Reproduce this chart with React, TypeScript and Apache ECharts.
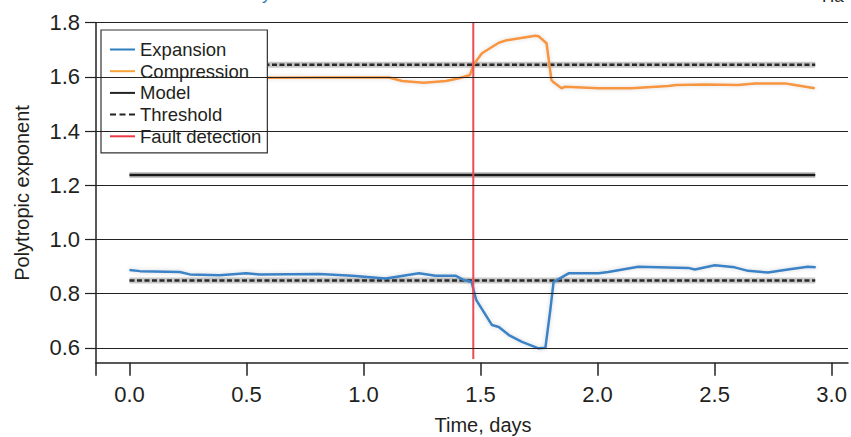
import { useEffect, useRef } from 'react';
import * as echarts from 'echarts';

const xTickValues = [0, 0.5, 1.0, 1.5, 2.0, 2.5, 3.0];
const yTickValues = [0.6, 0.8, 1.0, 1.2, 1.4, 1.6, 1.8];

const expansionDays = [0.0, 0.045, 0.215, 0.258, 0.385, 0.499, 0.556, 0.811, 0.952, 1.095, 1.237, 1.308, 1.393, 1.429, 1.462, 1.474, 1.482, 1.549, 1.578, 1.621, 1.677, 1.748, 1.777, 1.798, 1.812, 1.826, 1.876, 2.004, 2.046, 2.174, 2.387, 2.416, 2.501, 2.586, 2.643, 2.728, 2.813, 2.898, 2.932];
const expansionValues = [0.887, 0.883, 0.880, 0.871, 0.868, 0.875, 0.871, 0.872, 0.866, 0.856, 0.875, 0.866, 0.866, 0.850, 0.843, 0.800, 0.776, 0.684, 0.677, 0.647, 0.622, 0.598, 0.600, 0.739, 0.843, 0.850, 0.875, 0.875, 0.880, 0.899, 0.895, 0.889, 0.905, 0.897, 0.884, 0.878, 0.889, 0.899, 0.897];

const compressionDays = [0.0, 0.3, 0.607, 0.811, 1.109, 1.165, 1.258, 1.352, 1.408, 1.455, 1.470, 1.506, 1.578, 1.606, 1.734, 1.748, 1.782, 1.803, 1.812, 1.846, 1.862, 2.004, 2.144, 2.302, 2.336, 2.460, 2.600, 2.672, 2.800, 2.843, 2.928];
const compressionValues = [1.597, 1.598, 1.597, 1.598, 1.598, 1.585, 1.578, 1.585, 1.595, 1.607, 1.645, 1.687, 1.726, 1.734, 1.752, 1.750, 1.724, 1.588, 1.580, 1.558, 1.564, 1.558, 1.558, 1.566, 1.570, 1.572, 1.570, 1.576, 1.576, 1.570, 1.558];

const modelDays = [0.0, 2.93];
const modelValues = [1.238, 1.238];
const upperThresholdValues = [1.645, 1.645];
const lowerThresholdValues = [0.848, 0.848];

const faultDay = 1.469;
const faultRange = [0.559, 1.8];

const xMin = -0.143;
const xMax = 3.07;
const yMin = 0.545;
const yMax = 1.8;

const FONT = 'Liberation Sans';
const TEXT = '#231f20';

const zip = (xs: number[], ys: number[]) => xs.map((x, i) => [x, ys[i]]);

export default function App() {
  const ref = useRef<HTMLDivElement>(null);
  useEffect(() => {
    const chart = echarts.init(ref.current!, undefined, { renderer: 'svg' });
    const halo = 'rgba(110,110,110,0.38)';
    chart.setOption({
      animation: false,
      backgroundColor: '#ffffff',
      textStyle: { fontFamily: FONT, color: TEXT },
      grid: { left: 96, right: 3, top: 22.7, bottom: 74.3, containLabel: false },
      xAxis: {
        type: 'value',
        min: xMin,
        max: xMax,
        axisLine: { show: true, onZero: false, lineStyle: { color: '#222', width: 1.5 } },
        axisTick: { show: true, length: 13, customValues: [xMin, ...xTickValues], lineStyle: { color: '#222', width: 1.5 } },
        axisLabel: {
          customValues: xTickValues,
          formatter: (v: number) => v.toFixed(1),
          fontSize: 22,
          fontFamily: FONT,
          color: TEXT,
          margin: 21,
        },
        splitLine: { show: false },
      },
      yAxis: {
        type: 'value',
        min: yMin,
        max: yMax,
        axisLine: { show: true, onZero: false, lineStyle: { color: '#222', width: 1.5 } },
        axisTick: { show: true, length: 11, customValues: yTickValues, lineStyle: { color: '#222', width: 1.2 } },
        axisLabel: {
          customValues: yTickValues,
          formatter: (v: number) => v.toFixed(1),
          fontSize: 22,
          fontFamily: FONT,
          color: TEXT,
          margin: 16,
        },
        splitLine: { show: false },
      },
      legend: {
        orient: 'vertical',
        left: 101,
        top: 30,
        backgroundColor: '#ffffff',
        borderColor: '#333',
        borderWidth: 1.2,
        padding: [10, 6, 7, 9],
        itemGap: 2.7,
        itemWidth: 25,
        itemHeight: 14,
        textStyle: { fontSize: 18.5, fontFamily: FONT, color: TEXT, lineHeight: 18 },
        data: [
          { name: 'Expansion', icon: 'path://M0,6H25V8H0Z', itemStyle: { color: '#2d7dbd' } },
          { name: 'Compression', icon: 'path://M0,6H25V8H0Z', itemStyle: { color: '#f7a23a' } },
          { name: 'Model', icon: 'path://M0,6H25V8H0Z', itemStyle: { color: '#222' } },
          { name: 'Threshold', icon: 'path://M0,6H6V8H0ZM9.5,6H15.5V8H9.5ZM19,6H25V8H19Z', itemStyle: { color: '#222' } },
          { name: 'Fault detection', icon: 'path://M0,6H25V8H0Z', itemStyle: { color: '#ec3a45' } },
        ],
      },
      graphic: [
        {
          type: 'text',
          x: 12,
          y: 193,
          rotation: Math.PI / 2,
          style: { text: 'Polytropic exponent', font: `20px ${FONT}`, fill: TEXT, align: 'center', verticalAlign: 'top' },
        },
        {
          type: 'text',
          x: 483,
          y: 425,
          style: { text: 'Time, days', font: `20px ${FONT}`, fill: TEXT, align: 'center', verticalAlign: 'middle' },
        },
        {
          type: 'text',
          x: 262,
          y: -14,
          style: { text: 'y', font: `17px ${FONT}`, fill: '#2a7ab8', verticalAlign: 'top' },
        },
        {
          type: 'text',
          x: 822,
          y: -12,
          style: { text: 'Ha', font: `17px ${FONT}`, fill: TEXT, verticalAlign: 'top' },
        },
      ],
      series: [
        {
          type: 'line',
          silent: true,
          data: zip(modelDays, modelValues),
          symbol: 'none',
          lineStyle: { color: halo, width: 6 },
          z: 1,
          markLine: {
            silent: true,
            symbol: 'none',
            label: { show: false },
            lineStyle: { color: '#222', width: 1, type: 'solid' },
            data: yTickValues.map((v) => ({ yAxis: v })),
          },
        },
        { type: 'line', silent: true, data: zip(modelDays, upperThresholdValues), symbol: 'none', lineStyle: { color: halo, width: 6 }, z: 1 },
        { type: 'line', silent: true, data: zip(modelDays, lowerThresholdValues), symbol: 'none', lineStyle: { color: halo, width: 6 }, z: 1 },
        { name: 'Model', type: 'line', data: zip(modelDays, modelValues), symbol: 'none', lineStyle: { color: '#1a1a1a', width: 2.5 }, itemStyle: { color: '#222' }, z: 2 },
        { name: 'Threshold', type: 'line', data: zip(modelDays, upperThresholdValues), symbol: 'none', lineStyle: { color: '#2a2a2a', width: 2.5, type: [5, 2.5] }, itemStyle: { color: '#222' }, z: 2 },
        { name: 'Threshold', type: 'line', data: zip(modelDays, lowerThresholdValues), symbol: 'none', lineStyle: { color: '#2a2a2a', width: 2.5, type: [5, 2.5] }, itemStyle: { color: '#222' }, z: 2 },
        {
          name: 'Expansion', type: 'line', data: zip(expansionDays, expansionValues), symbol: 'none',
          lineStyle: { color: '#3b82c6', width: 2.5, shadowColor: 'rgba(0,0,0,0.18)', shadowBlur: 4 }, itemStyle: { color: '#3b82c6' }, z: 3,
        },
        {
          name: 'Compression', type: 'line', data: zip(compressionDays, compressionValues), symbol: 'none',
          lineStyle: { color: '#f7953f', width: 2.5, shadowColor: 'rgba(0,0,0,0.15)', shadowBlur: 4 }, itemStyle: { color: '#f7953f' }, z: 3,
        },
        {
          name: 'Fault detection', type: 'line', data: [[faultDay, faultRange[0]], [faultDay, faultRange[1]]], symbol: 'none',
          lineStyle: { color: '#ec4a55', width: 2 }, itemStyle: { color: '#ec3a45' }, z: 4,
        },
      ],
    });
    return () => chart.dispose();
  }, []);
  return <div ref={ref} style={{ position: 'fixed', left: 0, top: 0, width: 851, height: 437, background: '#fff' }} />;
}
